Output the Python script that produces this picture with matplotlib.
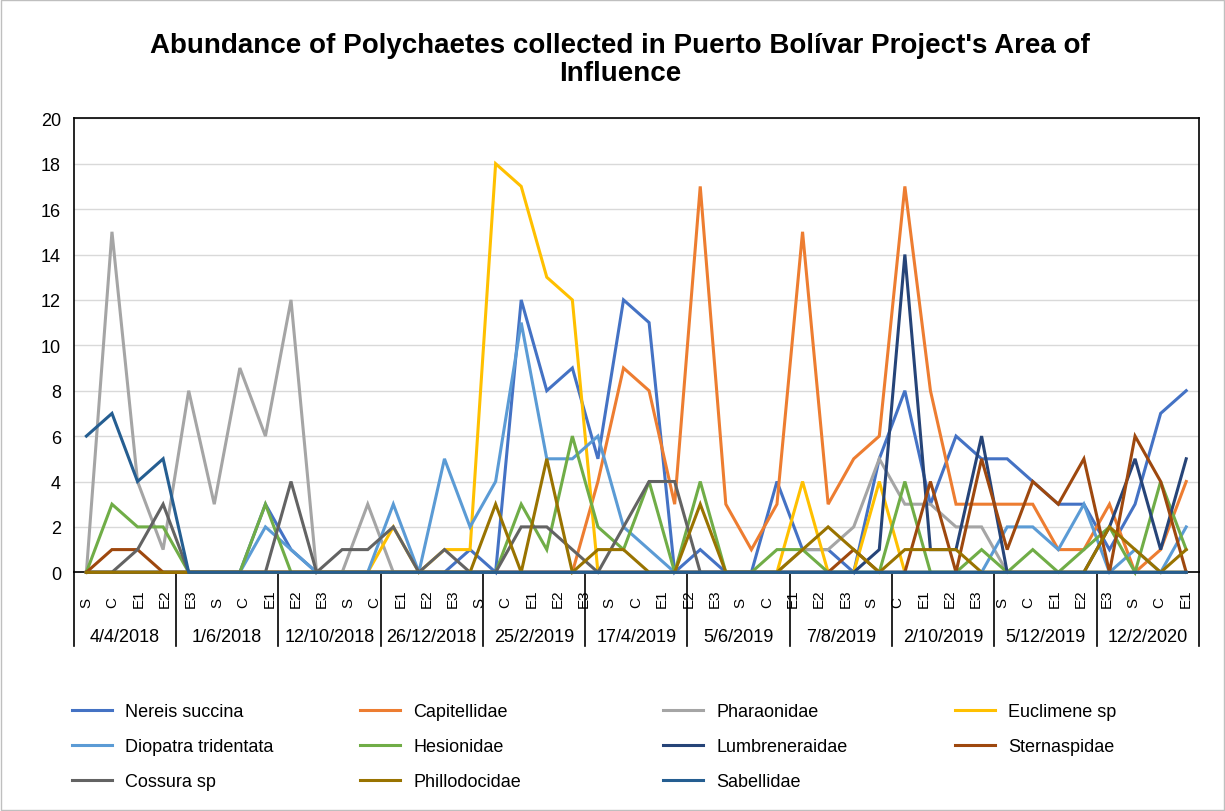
import numpy as np
import matplotlib
matplotlib.use("Agg")
import matplotlib.pyplot as plt
from matplotlib.transforms import blended_transform_factory
from matplotlib.patches import Rectangle

plt.rcParams['font.family'] = ['Liberation Sans', 'DejaVu Sans']

title = "Abundance of Polychaetes collected in Puerto Bolívar Project's Area of\nInfluence"
dates = ["4/4/2018", "1/6/2018", "12/10/2018", "26/12/2018", "25/2/2019", "17/4/2019",
         "5/6/2019", "7/8/2019", "2/10/2019", "5/12/2019", "12/2/2020"]
station_cycle = ["S", "C", "E1", "E2", "E3"]
n_station_labels = 43

nereis_succina = [0, 0, 0, 0, 0, 0, 0, 3, 1, 0, 0, 0, 0, 0, 0, 1, 0, 12, 8, 9, 5, 12,
                  11, 0, 1, 0, 0, 4, 1, 1, 0, 5, 8, 3, 6, 5, 5, 4, 3, 3, 1, 3, 7, 8]
capitellidae = [0, 0, 0, 0, 0, 0, 0, 0, 0, 0, 0, 0, 0, 0, 0, 0, 0, 0, 0, 0, 4, 9,
                8, 3, 17, 3, 1, 3, 15, 3, 5, 6, 17, 8, 3, 3, 3, 3, 1, 1, 3, 0, 1, 4]
pharaonidae = [0, 15, 4, 1, 8, 3, 9, 6, 12, 0, 0, 3, 0, 0, 0, 0, 0, 0, 0, 0, 0, 0,
               0, 0, 0, 0, 0, 0, 1, 1, 2, 5, 3, 3, 2, 2, 0, 0, 0, 0, 0, 0, 0, 0]
euclimene_sp = [0, 0, 0, 0, 0, 0, 0, 0, 0, 0, 0, 0, 2, 0, 1, 1, 18, 17, 13, 12, 0, 0,
                0, 0, 0, 0, 0, 0, 4, 0, 0, 4, 0, 0, 0, 0, 0, 0, 0, 0, 0, 0, 0, 0]
diopatra_tridentata = [0, 0, 0, 0, 0, 0, 0, 2, 1, 0, 0, 0, 3, 0, 5, 2, 4, 11, 5, 5, 6, 2,
                       1, 0, 0, 0, 0, 0, 0, 0, 0, 0, 0, 0, 0, 0, 2, 2, 1, 3, 0, 1, 0, 2]
hesionidae = [0, 3, 2, 2, 0, 0, 0, 3, 0, 0, 0, 0, 0, 0, 0, 0, 0, 3, 1, 6, 2, 1,
              4, 0, 4, 0, 0, 1, 1, 0, 0, 0, 4, 0, 0, 1, 0, 1, 0, 1, 2, 0, 4, 1]
lumbreneraidae = [0, 0, 0, 0, 0, 0, 0, 0, 0, 0, 0, 0, 0, 0, 0, 0, 0, 0, 0, 0, 0, 0,
                  0, 0, 0, 0, 0, 0, 0, 0, 0, 1, 14, 1, 1, 6, 0, 0, 0, 0, 2, 5, 1, 5]
sternaspidae = [0, 1, 1, 0, 0, 0, 0, 0, 0, 0, 0, 0, 0, 0, 0, 0, 0, 0, 0, 0, 0, 0,
                0, 0, 0, 0, 0, 0, 0, 0, 1, 0, 0, 4, 0, 5, 1, 4, 3, 5, 0, 6, 4, 0]
cossura_sp = [0, 0, 1, 3, 0, 0, 0, 0, 4, 0, 1, 1, 2, 0, 1, 0, 0, 2, 2, 1, 0, 2,
              4, 4, 0, 0, 0, 0, 0, 0, 0, 0, 0, 0, 0, 0, 0, 0, 0, 0, 0, 0, 0, 0]
phillodocidae = [0, 0, 0, 0, 0, 0, 0, 0, 0, 0, 0, 0, 0, 0, 0, 0, 3, 0, 5, 0, 1, 1,
                 0, 0, 3, 0, 0, 0, 1, 2, 1, 0, 1, 1, 1, 0, 0, 0, 0, 0, 2, 1, 0, 1]
sabellidae = [6, 7, 4, 5, 0, 0, 0, 0, 0, 0, 0, 0, 0, 0, 0, 0, 0, 0, 0, 0, 0, 0,
              0, 0, 0, 0, 0, 0, 0, 0, 0, 0, 0, 0, 0, 0, 0, 0, 0, 0, 0, 0, 0, 0]

series_names = ["Nereis succina", "Capitellidae", "Pharaonidae", "Euclimene sp",
                "Diopatra tridentata", "Hesionidae", "Lumbreneraidae", "Sternaspidae",
                "Cossura sp", "Phillodocidae", "Sabellidae"]
series_values = [nereis_succina, capitellidae, pharaonidae, euclimene_sp,
                 diopatra_tridentata, hesionidae, lumbreneraidae, sternaspidae,
                 cossura_sp, phillodocidae, sabellidae]
colors = ["#4472C4", "#ED7D31", "#A5A5A5", "#FFC000", "#5B9BD5", "#70AD47",
          "#264478", "#9E480E", "#636363", "#997300", "#255E91"]

W, H = 1225, 812
fig = plt.figure(figsize=(W / 100, H / 100), dpi=100)
fig.add_artist(Rectangle((0.001, 0.001), 0.998, 0.998, transform=fig.transFigure,
                         fill=False, edgecolor="#BFBFBF", linewidth=1.0))

ax_left, ax_right, ax_top, ax_bottom = 73.6, 1199, 119.3, 573.3
ax = fig.add_axes([ax_left / W, 1 - ax_bottom / H, (ax_right - ax_left) / W,
                   (ax_bottom - ax_top) / H])

n = len(nereis_succina)
x = np.arange(n)
handles = []
for name, vals, c in zip(series_names, series_values, colors):
    h, = ax.plot(x, vals, color=c, lw=2.2, label=name, clip_on=False, zorder=3,
                 solid_joinstyle="miter")
    handles.append(h)

ax.set_xlim(-0.5, n - 0.5)
ax.set_ylim(0, 20)
ax.set_yticks(np.arange(0, 21, 2))
ax.yaxis.grid(True, color="#D9D9D9", lw=1.0)
ax.set_axisbelow(True)
ax.tick_params(axis="y", length=0, pad=9, labelsize=13)
ax.set_xticks([])
for s in ax.spines.values():
    s.set_color("black")
    s.set_linewidth(1.2)

trans = blended_transform_factory(ax.transData, ax.transAxes)
axis_h = ax_bottom - ax_top
# station labels
label_pos = np.arange(n_station_labels) * (n / n_station_labels)
for k, p in enumerate(label_pos):
    ax.text(p, -(608 - ax_bottom) / axis_h, station_cycle[k % 5], transform=trans,
            rotation=90, ha="center", va="bottom", fontsize=11)
# group separators and date labels
per_group = n // len(dates)
sep_bottom = -(647 - ax_bottom) / axis_h
for g in range(len(dates) + 1):
    xb = g * per_group - 0.5
    ax.plot([xb, xb], [0, sep_bottom], transform=trans, color="black", lw=1.2,
            clip_on=False)
for g, d in enumerate(dates):
    ax.text(g * per_group + (per_group - 1) / 2, -(637 - ax_bottom) / axis_h, d,
            transform=trans, ha="center", va="center", fontsize=13)

fig.text(620 / W, 1 - 60 / H, title, ha="center", va="center", fontsize=20,
         fontweight="bold", linespacing=1.12)

# legend in row-major order, four columns
col_x = [72, 360, 663, 955]
for c in range(4):
    hs = handles[c::4]
    leg = fig.legend(handles=hs, labels=[h.get_label() for h in hs], loc="upper left",
                     bbox_to_anchor=(col_x[c] / W, 1 - 704 / H), frameon=False,
                     fontsize=13, borderpad=0, borderaxespad=0, handlelength=2.2,
                     handletextpad=0.75, labelspacing=1.0)

fig.savefig("out.png", dpi=100)
